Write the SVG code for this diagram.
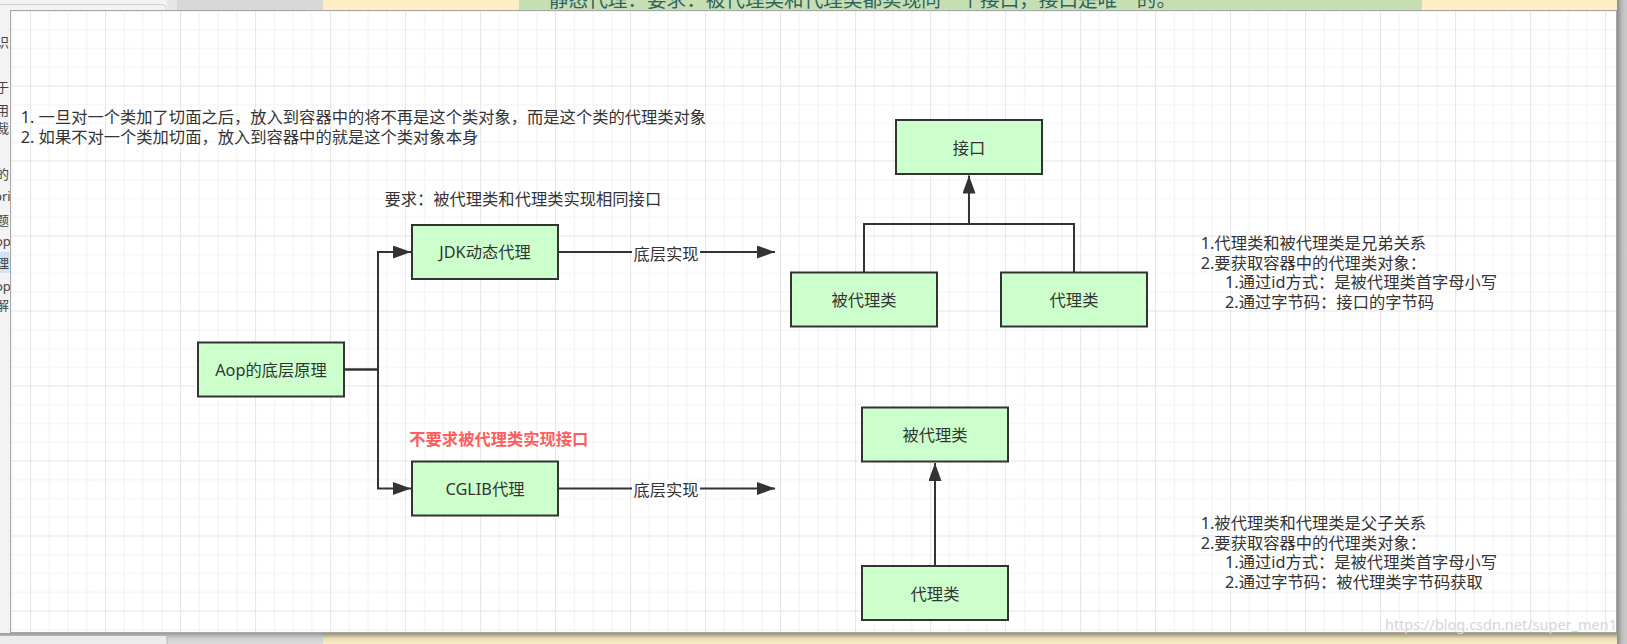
<svg xmlns="http://www.w3.org/2000/svg" width="1627" height="644" viewBox="0 0 1627 644">
<defs>
<style>
.t{font-family:"Noto Sans","Noto Sans CJK SC",sans-serif;font-size:16.3px;fill:#333}
.n rect{fill:#ccffcc;stroke:#333;stroke-width:2}
.n text{text-anchor:middle}
.c path{fill:none;stroke:#333;stroke-width:2}
.side{font-family:"Noto Sans","Noto Sans CJK SC",sans-serif;font-size:13px;fill:#444}
.lbl{fill:#fff}
</style>
<pattern id="grid" x="30.1" y="10.5" width="75" height="75" patternUnits="userSpaceOnUse">
<path d="M19.25 0V75M38 0V75M56.75 0V75M0 19.25H75M0 38H75M0 56.75H75" stroke="#f1f1f1" stroke-width="1" fill="none"/>
<path d="M0.5 0V75M0 0.5H75" stroke="#e4e4e4" stroke-width="1" fill="none"/>
</pattern>
<marker id="ar" markerUnits="userSpaceOnUse" markerWidth="18" markerHeight="13" refX="18" refY="6.5" orient="auto">
<path d="M0,0 L18,6.5 L0,13 Z" fill="#333"/>
</marker>
<linearGradient id="shR" x1="0" x2="1" y1="0" y2="0"><stop offset="0" stop-color="#8c8c8c"/><stop offset="0.5" stop-color="#bdbdbd"/><stop offset="1" stop-color="#cdcdcd"/></linearGradient>
<linearGradient id="shB" x1="0" x2="0" y1="0" y2="1"><stop offset="0" stop-color="#9a9070"/><stop offset="0.5" stop-color="#e8dcb4"/><stop offset="1" stop-color="#fcefc8"/></linearGradient>
<linearGradient id="shBg" x1="0" x2="0" y1="0" y2="1"><stop offset="0" stop-color="#9a9a9a"/><stop offset="0.5" stop-color="#d0d0d0"/><stop offset="1" stop-color="#dcdcdc"/></linearGradient>
</defs>

<!-- page background behind the canvas -->
<g id="page">
<rect x="0" y="0" width="1627" height="644" fill="#cdcdcd"/>
<rect x="0" y="0" width="167" height="644" fill="#f3f3f3"/>
<path d="M0 4.5H162Q166 4.5 166 8.5V10" fill="none" stroke="#d2d2d2"/>
<rect x="167" y="0" width="10" height="644" fill="#e6e6e6"/>
<rect x="177" y="0" width="146" height="644" fill="#d8d8d8"/>
<rect x="323" y="0" width="196" height="10" fill="#fdeec6"/>
<rect x="519" y="0" width="903" height="10" fill="#c5dfb3"/>
<rect x="1422" y="0" width="195" height="10" fill="#fdeec6"/>
<text x="549" y="7" font-family="Noto Sans CJK SC, sans-serif" font-size="19.6" fill="#2f6262">静态代理：要求：被代理类和代理类都实现同一个接口，接口是唯一的。</text>
<rect x="323" y="633" width="1294" height="11" fill="url(#shB)"/>
<rect x="0" y="633" width="323" height="11" fill="url(#shBg)"/>
<rect x="0" y="636" width="166" height="8" fill="#ececec"/>
<line x1="167.5" y1="636" x2="167.5" y2="644" stroke="#c4c4c4"/>
<rect x="1617" y="0" width="10" height="644" fill="url(#shR)"/>
<rect x="0" y="252" width="10" height="21" fill="#d3e2f4"/>
<g class="side">
<text x="-4" y="47">识</text>
<text x="-4" y="92">于</text>
<text x="-4" y="115">用</text>
<text x="-4" y="133">裁</text>
<text x="-4" y="179">的</text>
<text x="-6" y="201">pri</text>
<text x="-4" y="225">题</text>
<text x="-5" y="246">op</text>
<text x="-4" y="268">理</text>
<text x="-5" y="291">op</text>
<text x="-4" y="310">解</text>
</g>
</g>

<!-- canvas -->
<g id="canvas">
<rect x="10.5" y="10.5" width="1606" height="622" fill="#fff" stroke="#a8a8a8" stroke-width="1"/>
<rect x="11" y="11" width="1605" height="621" fill="url(#grid)"/>
</g>

<!-- free texts -->
<g id="notes" class="t">
<text x="20.7" y="123">1. 一旦对一个类加了切面之后，放入到容器中的将不再是这个类对象，而是这个类的代理类对象</text>
<text x="20.7" y="142.5">2. 如果不对一个类加切面，放入到容器中的就是这个类对象本身</text>
<text x="384.4" y="204.5">要求：被代理类和代理类实现相同接口</text>
<text x="409.3" y="444.5" style="fill:#ff5c5c;font-weight:bold">不要求被代理类实现接口</text>
<text x="1200.7" y="248.5">1.代理类和被代理类是兄弟关系</text>
<text x="1200.7" y="268.5">2.要获取容器中的代理类对象：</text>
<text x="1225" y="288">1.通过id方式：是被代理类首字母小写</text>
<text x="1225" y="307.5">2.通过字节码：接口的字节码</text>
<text x="1200.7" y="528.5">1.被代理类和代理类是父子关系</text>
<text x="1200.7" y="548.5">2.要获取容器中的代理类对象：</text>
<text x="1225" y="568">1.通过id方式：是被代理类首字母小写</text>
<text x="1225" y="587.5">2.通过字节码：被代理类字节码获取</text>
</g>

<!-- connectors -->
<g id="connectors" class="c">
<path d="M344 369.5H378V252H411" marker-end="url(#ar)"/>
<path d="M344 369.5H378V488.5H411" marker-end="url(#ar)"/>
<path d="M558 252H775" marker-end="url(#ar)"/>
<path d="M558 488.5H775" marker-end="url(#ar)"/>
<path d="M864 272.5V224H969V175.5" marker-end="url(#ar)"/>
<path d="M1074 272.5V224H969"/>
<path d="M935 566V463" marker-end="url(#ar)"/>
<rect class="lbl" x="632" y="243" width="68" height="19" style="stroke:none"/>
<rect class="lbl" x="632" y="479.5" width="68" height="19" style="stroke:none"/>
<text class="t" x="666" y="259.5" text-anchor="middle">底层实现</text>
<text class="t" x="666" y="496" text-anchor="middle">底层实现</text>
</g>

<!-- nodes -->
<g id="node-aop" class="n t"><rect x="198" y="342.5" width="146" height="54"/><text x="271" y="375.5">Aop的底层原理</text></g>
<g id="node-jdk" class="n t"><rect x="412" y="225" width="146" height="54"/><text x="485" y="258">JDK动态代理</text></g>
<g id="node-cglib" class="n t"><rect x="412" y="461.5" width="146" height="54"/><text x="485" y="494.5">CGLIB代理</text></g>
<g id="node-interface" class="n t"><rect x="896" y="120" width="146" height="54"/><text x="969" y="153.5">接口</text></g>
<g id="node-target1" class="n t"><rect x="791" y="272.5" width="146" height="54"/><text x="864" y="306">被代理类</text></g>
<g id="node-proxy1" class="n t"><rect x="1001" y="272.5" width="146" height="54"/><text x="1074" y="306">代理类</text></g>
<g id="node-target2" class="n t"><rect x="862" y="407.5" width="146" height="54"/><text x="935" y="441">被代理类</text></g>
<g id="node-proxy2" class="n t"><rect x="862" y="566" width="146" height="54"/><text x="935" y="599.5">代理类</text></g>

<!-- watermark -->
<text x="1617" y="630" text-anchor="end" font-family="Noto Sans, sans-serif" font-size="14.5" fill="#d6d6d6">https://blog.csdn.net/super_men1</text>
</svg>
